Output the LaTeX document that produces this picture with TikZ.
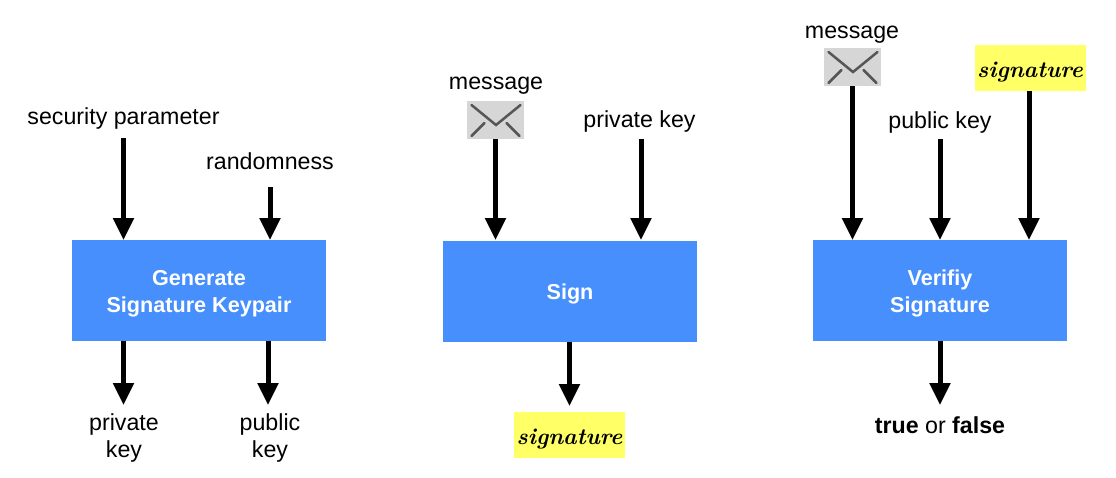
\documentclass[tikz,border=0pt]{standalone}
\usepackage{fontspec}
\setmainfont{Liberation Sans}
\newfontfamily\sigfont{Latin Modern Roman}
\usetikzlibrary{arrows.meta}
\definecolor{boxblue}{HTML}{468FFD}
\definecolor{sigyellow}{HTML}{FFFF66}
\definecolor{envgray}{HTML}{D6D6D6}
\definecolor{envline}{HTML}{565656}
\newcommand{\lowered}[2]{\raisebox{#1}[\height][\depth]{#2}}
\newcommand{\boxtext}[1]{\lowered{-3pt}{\begin{tabular}{@{}c@{}}#1\end{tabular}}}
\newcommand{\sigword}{\lowered{-4.5pt}{signature}}
\tikzset{
  x=1pt,y=-1pt,
  procbox/.style={draw=none,fill=boxblue,text=white,minimum width=254pt,minimum height=101pt,inner sep=0pt,align=center,font=\fontsize{21.6}{27}\selectfont\bfseries},
  lbl/.style={inner sep=0pt,align=center,text=black,font=\fontsize{23.2}{27.5}\selectfont},
  sigbox/.style={fill=sigyellow,minimum width=111pt,minimum height=46pt,inner sep=0pt,font=\sigfont\fontsize{23}{28}\selectfont\bfseries\itshape},
  envbox/.style={fill=envgray,minimum width=57pt,minimum height=38pt,inner sep=0pt},
  envstroke/.style={draw=envline,line width=2.5pt,line cap=round,line join=miter},
  flow/.style={draw=black,line width=5pt,-{Triangle[width=20pt,length=22pt]}}
}
\newcommand{\envstrokes}[1]{%
  \draw[envstroke] ([shift={(-24,-15)}]#1.center) -- ([shift={(0.5,5)}]#1.center) -- ([shift={(25,-15)}]#1.center);
  \draw[envstroke] ([shift={(-24,16)}]#1.center) -- ([shift={(-11,3)}]#1.center);
  \draw[envstroke] ([shift={(11,3)}]#1.center) -- ([shift={(24,16)}]#1.center);
}
\begin{document}
\begin{tikzpicture}
\useasboundingbox (0,0) rectangle (1116,477);
% boxes
\node[procbox] (gen) at (199,290.5) {\boxtext{Generate\\Signature Keypair}};
\node[procbox] (sign) at (570,291.5) {\boxtext{Sign}};
\node[procbox] (ver) at (940,290.5) {\boxtext{Verifiy\\Signature}};
% generate
\node[lbl] (sec) at (123.5,118) {security parameter};
\node[lbl] (rand) at (270,161) {randomness};
\node[lbl] (priv) at (124,438) {private\\key};
\node[lbl] (pub) at (270,438) {public\\key};
\coordinate (g1) at (123.5,240);
\coordinate (g2) at (270,240);
\coordinate (g3) at (123.5,341);
\coordinate (g4) at (268,341);
\coordinate (g1s) at (123.5,138);
\coordinate (g2s) at (270,187);
\coordinate (g3e) at (123.5,405);
\coordinate (g4e) at (268,405);
\draw[flow] (g1s) -- (g1);
\draw[flow] (g2s) -- (g2);
\draw[flow] (g3) -- (g3e);
\draw[flow] (g4) -- (g4e);
% sign
\node[lbl] (msg1) at (496,86) {message};
\node[envbox] (env1) at (495.5,120) {};
\envstrokes{env1}
\node[lbl] (pk1) at (639.5,121) {private key};
\node[sigbox] (sig1) at (569.5,435) {\sigword};
\coordinate (s1) at (495.5,240);
\coordinate (s2) at (641,240);
\coordinate (s3) at (569.5,342);
\coordinate (s3e) at (569.5,406);
\coordinate (s2s) at (641,139);
\draw[flow] (env1.south) -- (s1);
\draw[flow] (s2s) -- (s2);
\draw[flow] (s3) -- (s3e);
% verify
\node[lbl] (msg2) at (852,35) {message};
\node[envbox] (env2) at (852.5,67) {};
\envstrokes{env2}
\node[lbl] (pk2) at (940,122) {public key};
\node[sigbox] (sig2) at (1030,68) {\sigword};
\node[lbl] (res) at (940,425) {\textbf{true} or \textbf{false}};
\coordinate (v1) at (852.5,240);
\coordinate (v2) at (940,240);
\coordinate (v3) at (1029,240);
\coordinate (v2s) at (940,139);
\coordinate (v3s) at (1029,91);
\coordinate (v4) at (940,341);
\coordinate (v4e) at (940,405);
\draw[flow] (env2.south) -- (v1);
\draw[flow] (v2s) -- (v2);
\draw[flow] (v3s) -- (v3);
\draw[flow] (v4) -- (v4e);
\end{tikzpicture}
\end{document}
